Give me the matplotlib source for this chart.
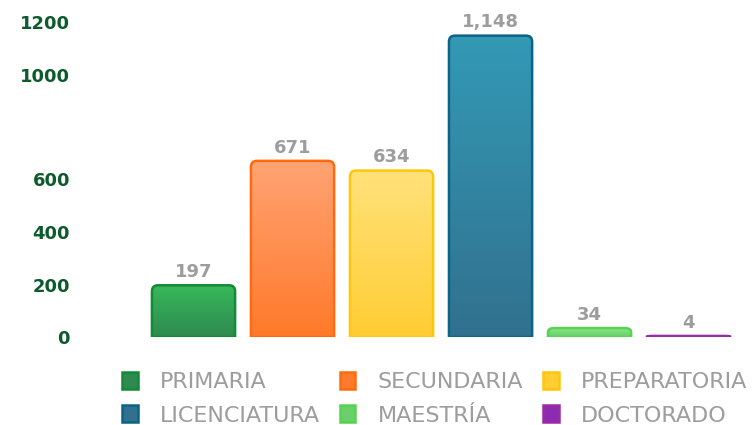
import numpy as np
import matplotlib.pyplot as plt
from matplotlib.path import Path
from matplotlib.patches import PathPatch, Patch
from matplotlib.colors import LinearSegmentedColormap

categories = ["PRIMARIA", "SECUNDARIA", "PREPARATORIA", "LICENCIATURA", "MAESTRÍA", "DOCTORADO"]
values = [197, 671, 634, 1148, 34, 4]
value_labels = ["197", "671", "634", "1,148", "34", "4"]
y_ticks = [0, 200, 400, 600, 1000, 1200]

# (top of gradient, bottom of gradient, outline)
bar_colors = [
    ("#37b85b", "#2f8a50", "#138a35"),
    ("#ffa374", "#ff7a2a", "#ff6a0e"),
    ("#ffe27a", "#ffcd34", "#ffc60a"),
    ("#3399b5", "#31718f", "#0b6388"),
    ("#88e488", "#6bcf6b", "#55d44f"),
    ("#b44cb6", "#8b2bb0", "#9a2aa8"),
]

TICK_COLOR = "#0d5a2c"
LABEL_COLOR = "#9d9d9d"


def top_rounded_path(x0, w, h, rx, ry):
    ry = min(ry, h / 2)
    rx = min(rx, w / 2)
    verts = [(x0, 0), (x0 + w, 0), (x0 + w, h - ry), (x0 + w, h), (x0 + w - rx, h),
             (x0 + rx, h), (x0, h), (x0, h - ry), (x0, 0)]
    codes = [Path.MOVETO, Path.LINETO, Path.LINETO, Path.CURVE3, Path.CURVE3,
             Path.LINETO, Path.CURVE3, Path.CURVE3, Path.CLOSEPOLY]
    return Path(verts, codes)


fig = plt.figure(figsize=(7.53, 4.25), dpi=100)
ax = fig.add_axes([95 / 753, 88 / 425, 650 / 753, 315 / 425])

x = np.arange(len(categories))
xlim = (-0.995, 5.57)
ylim = (0, 1200)

bars = ax.bar(x, values, width=0.84, alpha=0)

# corner radius of ~6px expressed in data units on each axis
rx = 6 * (xlim[1] - xlim[0]) / 650
ry = 6 * (ylim[1] - ylim[0]) / 315

for rect, (c_top, c_bot, c_edge) in zip(bars, bar_colors):
    x0, w, h = rect.get_x(), rect.get_width(), rect.get_height()
    path = top_rounded_path(x0, w, h, rx, ry)
    clip = PathPatch(path, facecolor="none", edgecolor="none")
    ax.add_patch(clip)
    cmap = LinearSegmentedColormap.from_list("g", [c_bot, c_top])
    grad = np.linspace(0, 1, 64).reshape(-1, 1)
    img = ax.imshow(grad, cmap=cmap, origin="lower", aspect="auto",
                    extent=[x0, x0 + w, 0, h], zorder=2)
    img.set_clip_path(clip)
    ax.add_patch(PathPatch(path, facecolor="none", edgecolor=c_edge, lw=1.8, zorder=3))

for xi, v, lab in zip(x, values, value_labels):
    ax.annotate(lab, (xi, v), xytext=(0, 3), textcoords="offset points",
                ha="center", va="bottom", fontsize=13, fontweight="bold",
                color=LABEL_COLOR)

ax.set_xlim(*xlim)
ax.set_ylim(*ylim)
ax.set_xticks([])
ax.set_yticks(y_ticks)
ax.set_yticklabels([str(t) for t in y_ticks])
ax.tick_params(axis="y", length=0, pad=18, labelsize=13, labelcolor=TICK_COLOR)
for lab in ax.get_yticklabels():
    lab.set_fontweight("bold")
for s in ax.spines.values():
    s.set_visible(False)

# legend: two rows of three, filled column by column
handles = [Patch(facecolor=c[1], edgecolor=c[2], lw=1.8) for c in bar_colors]
order = [0, 3, 1, 4, 2, 5]
leg = fig.legend([handles[i] for i in order], [categories[i] for i in order],
                 ncol=3, loc="upper left", bbox_to_anchor=(122 / 753, 0.125),
                 frameon=False, fontsize=16, handlelength=0.7, handleheight=0.8,
                 handletextpad=1.0, columnspacing=0.9, labelspacing=0.6,
                 borderpad=0, borderaxespad=0)
for t in leg.get_texts():
    t.set_color(LABEL_COLOR)

fig.savefig("out.png", dpi=100)
